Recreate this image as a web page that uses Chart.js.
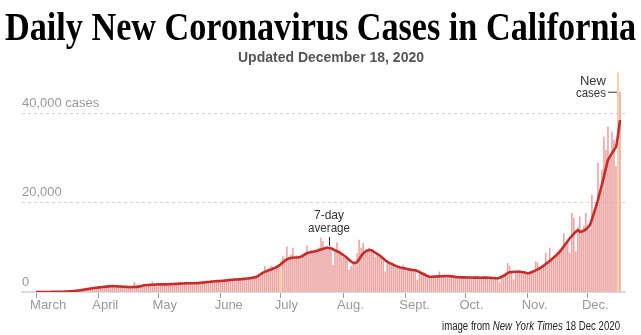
<!DOCTYPE html>
<html>
<head>
<meta charset="utf-8">
<script src="https://cdn.jsdelivr.net/npm/chart.js@4.4.1/dist/chart.umd.min.js"></script>
<style>
  html, body { margin: 0; padding: 0; background: #fff; }
</style>
</head>
<body>
<canvas id="covid" width="641" height="335"></canvas>
<script>
// day index 0 = March 1, 2020
const monthStarts = [0, 31, 61, 92, 122, 153, 184, 214, 245, 275];
const monthLabels = ["March", "April", "May", "June", "July", "Aug.", "Sept.", "Oct.", "Nov.", "Dec."];
const yTicks = [0, 20000, 40000];

const dailyCases = [
  // Mar
  0, 2, 4, 6, 8, 12, 14, 18, 22, 30, 34, 44, 50, 70, 90, 110, 130, 170, 200, 250, 300, 380, 400, 480, 560, 620, 700, 760, 860, 920, 1020,
  // Apr
  1100, 1000, 1150, 1200, 1250, 1350, 1200, 1400, 1300, 1250, 1350, 1150, 1200, 1100, 1300, 1050, 1150, 1100, 2200, 1150, 1250, 1300, 1500, 1700, 1550, 1600, 1450, 2300, 1650, 1800,
  // May
  1700, 1600, 1750, 1800, 1650, 1700, 1900, 1850, 1800, 1750, 2000, 1900, 1850, 2100, 2000, 1900, 2050, 1800, 1950, 2000, 2100, 2150, 2050, 2200, 2300, 2250, 2400, 2200, 2500, 2450, 2550,
  // Jun
  2600, 2400, 2700, 2800, 2500, 2900, 2850, 2700, 3000, 2900, 2800, 3100, 3000, 2800, 3300, 3200, 3400, 3500, 3300, 3800, 4200, 4300, 5800, 4600, 5200, 5800, 5500, 5000, 5900, 6200,
  // Jul
  7000, 8000, 7400, 10100, 7600, 8300, 9800, 7200, 8100, 8000, 7800, 8500, 8700, 10300, 8900, 9400, 8600, 9300, 9600, 9800, 12100, 11200, 9500, 10200, 9800, 10100, 6000, 9200, 11000, 8600, 8400,
  // Aug
  7800, 7500, 7200, 4900, 5800, 6200, 6800, 8600, 11600, 9800, 10950, 9200, 9500, 9800, 9100, 8700, 7800, 8600, 8000, 7600, 6900, 4500, 6400, 6600, 5800, 6100, 5600, 5200, 5800, 5100, 6000,
  // Sep
  5100, 4900, 5200, 4800, 5000, 4600, 2700, 4400, 4200, 3900, 3700, 3300, 3400, 3500, 3600, 3300, 3800, 4500, 3500, 3400, 3700, 3300, 3600, 3800, 3200, 3400, 3100, 3300, 3200, 3400,
  // Oct
  3100, 3300, 3400, 3200, 3000, 3300, 3500, 3100, 3200, 3300, 3000, 3400, 3100, 3200, 3300, 3000, 3100, 2100, 3300, 3600, 3900, 6400, 5800, 4200, 2700, 4700, 4600, 4400, 4700, 4300, 4500,
  // Nov
  3900, 4600, 4800, 4500, 6800, 6500, 5200, 5600, 6000, 8700, 6500, 9800, 7200, 7800, 8400, 8900, 9400, 9800, 13000, 10500, 11500, 8700, 17600, 16500, 9000, 14500, 16800, 13900, 14800, 17600,
  // Dec
  15000, 14000, 21700, 17500, 20000, 28800, 22000, 27300, 34600, 31700, 36900, 30000, 35800, 34000, 28000, 49000, 44700
];

const sevenDayAvg = [
  // Mar
  5, 5, 5, 5, 10, 10, 15, 15, 20, 25, 30, 40, 50, 60, 80, 100, 120, 150, 180, 220, 260, 320, 380, 450, 530, 600, 680, 760, 840, 900, 960,
  // Apr
  1000, 1050, 1100, 1150, 1200, 1250, 1300, 1320, 1300, 1280, 1250, 1230, 1200, 1180, 1150, 1120, 1100, 1110, 1130, 1150, 1200, 1280, 1400, 1500, 1550, 1580, 1600, 1620, 1650, 1680,
  // May
  1700, 1720, 1700, 1710, 1700, 1720, 1750, 1780, 1800, 1820, 1850, 1880, 1900, 1920, 1950, 1960, 1970, 1950, 1960, 1980, 2000, 2050, 2100, 2150, 2200, 2250, 2300, 2350, 2400, 2420, 2450,
  // Jun
  2460, 2500, 2550, 2600, 2650, 2700, 2750, 2780, 2800, 2820, 2840, 2900, 2950, 3000, 3050, 3100, 3200, 3300, 3420, 3700, 4000, 4300, 4500, 4700, 4850, 5000, 5200, 5400, 5600, 5900,
  // Jul
  6200, 6600, 7000, 7300, 7500, 7600, 7650, 7700, 7720, 7750, 7900, 8100, 8400, 8650, 8800, 8900, 9000, 9100, 9200, 9350, 9500, 9650, 9800, 9900, 9850, 9750, 9550, 9300, 9100, 8900, 8600,
  // Aug
  8300, 8000, 7600, 7200, 6800, 6550, 6500, 6700, 7300, 8000, 8600, 9000, 9250, 9390, 9350, 9100, 8800, 8500, 8270, 7900, 7500, 7100, 6770, 6500, 6300, 6100, 5900, 5700, 5550, 5400, 5300,
  // Sep
  5250, 5150, 5050, 4950, 4900, 4850, 4700, 4500, 4250, 4020, 3800, 3600, 3420, 3400, 3420, 3450, 3480, 3500, 3520, 3540, 3560, 3580, 3550, 3500, 3450, 3380, 3290, 3280, 3270, 3265,
  // Oct
  3260, 3250, 3240, 3230, 3220, 3220, 3210, 3200, 3200, 3210, 3220, 3200, 3180, 3150, 3120, 3090, 3060, 3200, 3400, 3600, 3900, 4200, 4400, 4450, 4500, 4520, 4540, 4540, 4480, 4400, 4300,
  // Nov
  4180, 4250, 4400, 4600, 4850, 5050, 5300, 5600, 5900, 6250, 6600, 6930, 7300, 7700, 8100, 8550, 9010, 9600, 10200, 10800, 11400, 12000, 12500, 13000, 13450, 13860, 13480, 13500, 13700, 14000,
  // Dec
  14370, 14970, 16200, 17600, 19000, 20560, 22300, 24000, 25770, 27700, 29500, 30300, 31000, 31740, 32400, 35000, 38400
];

// days drawn in the highlight colour
const flaggedDays = [122, 290];

const sans = "'Liberation Sans', Arial, sans-serif";
const narrow = "'Liberation Sans Narrow', 'Liberation Sans', Arial, sans-serif";

const textBits = {
  id: "textBits",
  afterDraw(chart) {
    const { ctx, scales } = chart;
    const x = scales.x, y = scales.y;
    ctx.save();

    // headline
    ctx.fillStyle = "#000";
    ctx.textAlign = "center";
    ctx.textBaseline = "alphabetic";
    ctx.font = "bold 39px 'Liberation Serif', 'Times New Roman', serif";
    ctx.fillText("Daily New Coronavirus Cases in California", 320.5, 40, 631);

    ctx.fillStyle = "#555";
    ctx.font = "bold 14px " + narrow;
    ctx.fillText("Updated December 18, 2020", 331, 62, 188);

    // 7-day average callout
    const peakDay = 146;
    const px = x.getPixelForValue(peakDay);
    const py = y.getPixelForValue(sevenDayAvg[peakDay]);
    ctx.fillStyle = "#333";
    ctx.font = "13px " + narrow;
    ctx.fillText("7-day", px, py - 29, 30);
    ctx.fillText("average", px, py - 16, 42);
    ctx.strokeStyle = "#333";
    ctx.lineWidth = 1;
    ctx.beginPath();
    ctx.moveTo(Math.round(px) + 0.5, py - 11);
    ctx.lineTo(Math.round(px) + 0.5, py - 2);
    ctx.stroke();

    // new cases callout
    const nDay = flaggedDays[1];
    const nx = x.getPixelForValue(nDay);
    const ny = y.getPixelForValue(dailyCases[nDay]);
    ctx.textAlign = "right";
    ctx.fillText("New", nx - 12, ny + 12, 26);
    ctx.fillText("cases", nx - 12, ny + 24, 30);
    ctx.beginPath();
    ctx.moveTo(nx - 10, ny + 19.5);
    ctx.lineTo(nx - 1, ny + 19.5);
    ctx.stroke();

    // credit line, squeezed to the reference width
    const parts = [
      ["image from ", "12px " + sans],
      ["New York Times", "italic 12px " + sans],
      [" 18 Dec 2020", "12px " + sans]
    ];
    let total = 0;
    parts.forEach(p => { ctx.font = p[1]; total += ctx.measureText(p[0]).width; });
    const squeeze = Math.min(1, 178 / total);
    ctx.translate(620 - total * squeeze, 330);
    ctx.scale(squeeze, 1);
    let cx = 0;
    ctx.textAlign = "left";
    ctx.fillStyle = "#222";
    parts.forEach(p => {
      ctx.font = p[1];
      ctx.fillText(p[0], cx, 0);
      cx += ctx.measureText(p[0]).width;
    });

    ctx.restore();
  }
};

new Chart(document.getElementById("covid"), {
  data: {
    datasets: [
      {
        type: "line",
        label: "7-day average",
        data: sevenDayAvg.map((v, i) => ({ x: i, y: v })),
        borderColor: "#c62d2a",
        borderWidth: 2.6,
        pointRadius: 0,
        tension: 0.25,
        borderJoinStyle: "round",
        order: 0
      },
      {
        type: "bar",
        label: "New cases",
        data: dailyCases.map((v, i) => ({ x: i, y: v })),
        backgroundColor: dailyCases.map((v, i) => flaggedDays.includes(i) ? "#f6c98a" : "#eba3a1"),
        barThickness: 0.9,
        order: 1
      }
    ]
  },
  options: {
    responsive: false,
    animation: false,
    devicePixelRatio: 1,
    layout: { padding: { top: 41.4, left: 22, right: 16, bottom: 23 } },
    plugins: {
      legend: { display: false },
      tooltip: { enabled: false }
    },
    scales: {
      x: {
        type: "linear",
        min: -7,
        max: 293.5,
        offset: false,
        afterBuildTicks: s => { s.ticks = monthStarts.map(v => ({ value: v })); },
        afterFit: s => { s.height = 20; },
        grid: { drawOnChartArea: false, drawTicks: true, tickLength: 6, tickColor: "#999", color: "#999", offset: false },
        border: { display: true, color: "#dcdcdc", width: 2 },
        ticks: {
          autoSkip: false,
          maxRotation: 0,
          align: "start",
          labelOffset: -6,
          padding: 0,
          color: "#999",
          font: { family: sans, size: 13 },
          callback: v => monthLabels[monthStarts.indexOf(v)]
        }
      },
      y: {
        min: 0,
        max: 56000,
        afterBuildTicks: s => { s.ticks = yTicks.map(v => ({ value: v })); },
        afterFit: s => { s.width = 0; },
        grid: { drawTicks: false, color: "#d2d2d2", lineWidth: 1 },
        border: { display: false, dash: [3, 3] },
        ticks: {
          mirror: true,
          padding: 0,
          labelOffset: -10,
          color: "#999",
          font: { family: sans, size: 13 },
          callback: v => v === 40000 ? "40,000 cases" : v.toLocaleString("en-US")
        }
      }
    }
  },
  plugins: [textBits]
});
</script>
</body>
</html>
